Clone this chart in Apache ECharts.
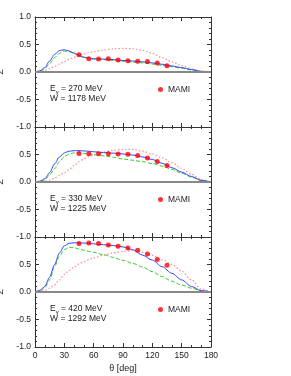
<!DOCTYPE html>
<html>
<head>
<meta charset="utf-8">
<script src="https://cdn.jsdelivr.net/npm/echarts@6/dist/echarts.min.js"></script>
<style>html,body{margin:0;padding:0;background:#fff}#c{width:291px;height:376px}</style>
</head>
<body>
<div id="c"></div>
<script>
// angles (deg) for theory curves
const thetaCurve = [0,5,10,15,20,25,30,35,40,45,50,55,60,70,80,90,100,110,120,130,140,150,160,170,180];
// angles (deg) of MAMI data
const thetaData = [45,55,65,75,85,95,105,115,125,135];

const energies = ['270','330','420'];
const wValues = ['1178','1225','1292'];

// Panel 1: E = 270 MeV
const blue1  = [0,0.02,0.08,0.2,0.32,0.39,0.405,0.38,0.345,0.305,0.27,0.25,0.24,0.235,0.225,0.21,0.2,0.185,0.165,0.14,0.11,0.08,0.045,0.012,0];
const green1 = [0,0.01,0.06,0.15,0.26,0.34,0.38,0.37,0.335,0.295,0.265,0.245,0.235,0.225,0.21,0.195,0.18,0.165,0.145,0.12,0.095,0.068,0.038,0.01,0];
const red1   = [0,0.01,0.03,0.06,0.1,0.145,0.19,0.23,0.27,0.305,0.33,0.35,0.37,0.4,0.42,0.43,0.425,0.395,0.34,0.26,0.185,0.115,0.055,0.015,0];
const mami1  = [0.315,0.24,0.235,0.24,0.22,0.205,0.195,0.19,0.165,0.115];

// Panel 2: E = 330 MeV
const blue2  = [0,0.015,0.06,0.17,0.33,0.455,0.53,0.56,0.57,0.57,0.565,0.56,0.55,0.535,0.525,0.51,0.49,0.455,0.41,0.34,0.26,0.18,0.1,0.03,0];
const green2 = [0,0.01,0.04,0.13,0.24,0.37,0.46,0.51,0.53,0.53,0.52,0.51,0.5,0.475,0.45,0.42,0.395,0.37,0.335,0.29,0.23,0.16,0.09,0.025,0];
const red2   = [0,0.005,0.015,0.035,0.07,0.12,0.17,0.23,0.3,0.37,0.42,0.46,0.49,0.545,0.575,0.595,0.595,0.56,0.51,0.44,0.35,0.25,0.14,0.045,0];
const mami2  = [0.52,0.515,0.515,0.515,0.51,0.505,0.48,0.435,0.375,0.30];

// Panel 3: E = 420 MeV
const blue3  = [0,0.03,0.1,0.27,0.5,0.71,0.84,0.885,0.895,0.895,0.89,0.885,0.875,0.86,0.845,0.82,0.77,0.67,0.58,0.46,0.34,0.22,0.1,0.025,0];
const green3 = [0,0.02,0.08,0.22,0.46,0.65,0.77,0.81,0.805,0.78,0.76,0.74,0.72,0.68,0.63,0.575,0.52,0.455,0.37,0.28,0.195,0.125,0.07,0.02,0];
const red3   = [0,0.01,0.03,0.07,0.13,0.22,0.32,0.39,0.45,0.51,0.55,0.59,0.62,0.67,0.71,0.74,0.75,0.72,0.665,0.59,0.5,0.38,0.22,0.05,0];
const mami3  = [0.88,0.89,0.88,0.855,0.83,0.80,0.76,0.69,0.59,0.485];

const xTicks = [0,30,60,90,120,150,180];
const yTicks = [-1.0,-0.5,0.0,0.5,1.0];

const blues = [blue1,blue2,blue3], greens=[green1,green2,green3], reds=[red1,red2,red3], mamis=[mami1,mami2,mami3];

const FONT = 'Liberation Sans, Arial, sans-serif';
const AX = '#333';
const gridTops = [17,127,237];
const H = 110, L = 35, W = 176;

const grids = gridTops.map(t => ({left:L, top:t, width:W, height:H, containLabel:false, outerBoundsMode:'none'}));
const xAxes = [], yAxes = [], series = [], legends = [], graphics = [];
const zip = (xs, ys) => xs.map((x,i)=>[x,ys[i]]);

for (let i=0;i<3;i++){
  ['bottom','top'].forEach((pos,k)=>{
    xAxes.push({
      type:'value', gridIndex:i, position:pos, min:0, max:180, interval:30,
      axisLine:{show:true,onZero:false,lineStyle:{color:AX,width:1}},
      axisTick:{show:true,inside:true,length:4,lineStyle:{color:AX}},
      minorTick:{show:true,splitNumber:3,length:2,lineStyle:{color:AX}},
      splitLine:{show:false},
      axisLabel:{show:(i===2&&k===0),margin:4,fontSize:8.5,color:'#222',fontFamily:FONT},
      name:(i===2&&k===0)?'θ [deg]':'', nameLocation:'middle', nameGap:17,
      nameTextStyle:{fontSize:9,color:'#222',fontFamily:FONT}
    });
  });
  ['left','right'].forEach((pos,k)=>{
    yAxes.push({
      type:'value', gridIndex:i, position:pos, min:-1, max:1, interval:0.5,
      axisLine:{show:true,onZero:false,lineStyle:{color:AX,width:1}},
      axisTick:{show:true,inside:true,length:4,lineStyle:{color:AX}},
      minorTick:{show:true,splitNumber:5,length:2,lineStyle:{color:AX}},
      splitLine:{show:false},
      axisLabel:{show:k===0,margin:4,fontSize:8.5,color:'#222',fontFamily:FONT,
        showMaxLabel: i===0, formatter:v=>v.toFixed(1)},
      name:k===0?'Σ':'', nameLocation:'middle', nameRotate:90, nameGap:26,
      nameTextStyle:{fontSize:9,color:'#222',fontFamily:FONT}
    });
  });
  const xi = 2*i, yi = 2*i;
  series.push({
    type:'line', name:'red'+i, xAxisIndex:xi, yAxisIndex:yi, data:zip(thetaCurve,reds[i]),
    smooth:0.3, smoothMonotone:'x', showSymbol:false, symbol:'none', z:2,
    lineStyle:{color:'#ff8c8c',width:1.2,type:[1.5,2]},
    markLine:{silent:true,symbol:'none',label:{show:false},animation:false,
      lineStyle:{color:'#888',width:2,type:'solid'},data:[{yAxis:0}]}
  });
  series.push({
    type:'line', name:'green'+i, xAxisIndex:xi, yAxisIndex:yi, data:zip(thetaCurve,greens[i]),
    smooth:0.3, smoothMonotone:'x', showSymbol:false, symbol:'none', z:3,
    lineStyle:{color:'#33cc33',width:1,type:[4,2]}
  });
  series.push({
    type:'line', name:'blue'+i, xAxisIndex:xi, yAxisIndex:yi, data:zip(thetaCurve,blues[i]),
    smooth:0.3, smoothMonotone:'x', showSymbol:false, symbol:'none', z:4,
    lineStyle:{color:'#3344ff',width:1}
  });
  series.push({
    type:'scatter', name:'MAMI', xAxisIndex:xi, yAxisIndex:yi, data:zip(thetaData,mamis[i]),
    symbol:'circle', symbolSize:5, z:5,
    itemStyle:{color:'#ff0000'}
  });
  const zeroY = gridTops[i] + H/2;
  legends.push({
    data:['MAMI'], left:158, top:zeroY+13, itemWidth:5, itemHeight:5, itemGap:0,
    selectedMode:false, icon:'circle', padding:0,
    textStyle:{fontSize:8.5,color:'#222',fontFamily:FONT,padding:[0,0,0,0]}
  });
  graphics.push({
    type:'text', left:50, top:zeroY+12,
    style:{
      text:'{n|E}{s|γ}{n| = '+energies[i]+' MeV}',
      rich:{
        n:{fontSize:8.5,fill:'#222',fontFamily:FONT,lineHeight:11,verticalAlign:'top'},
        s:{fontSize:6,fill:'#222',fontFamily:FONT,lineHeight:11,verticalAlign:'top',padding:[5,0,0,0]}
      }
    }
  });
  graphics.push({
    type:'text', left:50, top:zeroY+22,
    style:{text:'W = '+wValues[i]+' MeV',fontSize:8.5,fill:'#222',fontFamily:FONT}
  });
}

const chart = echarts.init(document.getElementById('c'), null, {renderer:'canvas'});
chart.setOption({
  animation:false,
  backgroundColor:'#fff',
  grid:grids, xAxis:xAxes, yAxis:yAxes, series:series, legend:legends, graphic:graphics
});
</script>
</body>
</html>
